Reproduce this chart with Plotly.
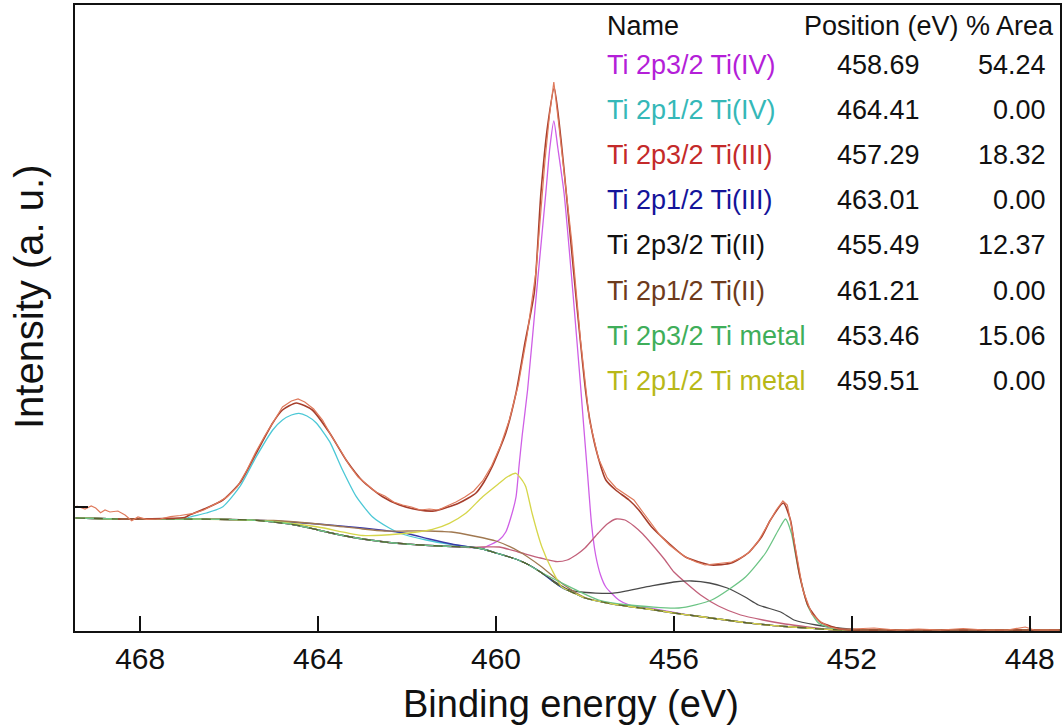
import plotly.graph_objects as go

# ---------------- data (binding energy in eV, intensity in a.u.) ----------------
bg_E = [469.45, 468.5, 468.0, 467.0, 466.0, 465.5, 465.0, 464.5, 464.0, 463.5, 463.0, 462.5, 462.0,
        461.5, 461.0, 460.5, 460.3, 460.0, 459.7, 459.5, 459.3, 459.0, 458.7, 458.5, 458.2, 458.0,
        457.5, 457.0, 456.5, 456.0, 455.5, 455.0, 454.5, 454.0, 453.5, 453.0, 452.5, 452.0, 447.3]
bg_I = [113, 112, 112, 112, 111.5, 111, 109, 106, 101, 96, 92, 89, 87,
        85.5, 84.5, 83.5, 82, 78, 74, 71, 67, 59, 49, 43, 37, 33,
        28, 24.5, 21.5, 18, 15, 12, 9, 6.5, 4.5, 3, 1.5, 1, 1]

raw_E = [469.43, 469.33, 469.24, 469.10, 469.00, 468.89, 468.79, 468.68, 468.50, 468.34, 468.19, 468.05,
         467.86, 467.55, 467.32, 467.10, 466.80, 466.57, 466.27, 466.05, 465.82, 465.6, 465.4, 465.2,
         465.0, 464.8, 464.6, 464.45, 464.3, 464.1, 463.9, 463.7, 463.5, 463.3, 463.1, 462.9, 462.7,
         462.5, 462.3, 462.1, 461.9, 461.7, 461.5, 461.3, 461.1, 460.9, 460.7, 460.5, 460.3, 460.1,
         459.9, 459.7, 459.5, 459.3, 459.1, 458.9, 458.8, 458.7, 458.6, 458.5, 458.3, 458.1, 457.9,
         457.7, 457.5, 457.3, 457.1, 456.9, 456.7, 456.5, 456.3, 456.1, 455.9, 455.7, 455.5, 455.3,
         455.1, 454.9, 454.7, 454.5, 454.3, 454.1, 453.9, 453.7, 453.55, 453.45, 453.3, 453.1, 452.9,
         452.7, 452.5, 452.3, 452.0, 451.5, 451.0, 450.5, 450.0, 449.5, 449.0, 448.5, 448.1, 447.9, 447.35]
raw_I = [125, 123.5, 122, 125, 123, 118.3, 121, 119, 120, 116, 110.3, 114,
         111.7, 112, 114.3, 115.5, 117.7, 121, 128, 134, 144, 161, 179, 195,
         210, 224, 230, 232, 229, 222, 211, 195, 181, 166, 154, 146, 139,
         135, 129, 126, 124, 121, 122, 121, 125, 129, 134, 140, 150, 165,
         185, 211, 246, 296, 360, 470, 515, 549, 511, 471, 391, 291, 211,
         173, 153, 143, 137, 131, 119, 107, 95, 86, 79, 73, 69, 66,
         67, 68, 69, 73, 79, 90, 105, 121, 130, 126, 91, 41, 17,
         9, 4, 2, 2, 3, 1, 2, 1, 2.5, 1, 1, 4, 1, 1]

env_E = [468.5, 468.0, 467.49, 467.0, 466.89, 466.51, 466.14, 465.76, 465.39, 465.02, 464.8, 464.49,
         464.13, 463.74, 463.37, 463.0, 462.55, 462.17, 461.73, 461.39, 460.83, 460.45, 460.27, 460.09,
         459.78, 459.55, 459.35, 459.14, 458.99, 458.84, 458.69, 458.54, 458.42, 458.21, 457.98, 457.87,
         457.73, 457.53, 457.31, 457.01, 456.79, 456.5, 456.12, 455.74, 455.16, 454.71, 454.33, 454.03,
         453.83, 453.54, 453.38, 453.29, 453.16, 452.98, 452.71, 452.19, 451.63, 447.3]
env_I = [112, 112, 112.5, 113.5, 116, 123, 131, 148, 178, 208, 221, 228,
         221, 198, 171, 150, 134.3, 126, 121, 120, 128, 138, 149, 164,
         198, 238, 288, 338, 438, 505, 543, 492, 438, 338, 238, 206,
         178, 151, 141, 131, 121, 104, 88, 74, 66, 68, 78, 94,
         111, 128, 111, 86, 53, 25, 9, 1.5, 1, 1]

# fitted components (component + background)
ti4_32_E = [460.31, 459.93, 459.78, 459.67, 459.55, 459.48, 459.41, 459.29, 459.09, 458.88, 458.79, 458.70,
            458.61, 458.47, 458.27, 458.10, 458.03, 457.94, 457.85, 457.76, 457.65, 457.53, 457.24, 457.0, 456.5, 456.0]
ti4_32_I = [83, 91, 99, 113, 134, 166, 196, 241, 338, 438, 483, 510,
            483, 438, 338, 246, 206, 156, 106, 76, 56, 44, 31, 26, 22.5, 18.5]

ti4_12_E = [466.88, 466.51, 466.14, 465.76, 465.39, 465.02, 464.8, 464.6, 464.43, 464.25, 464.04, 463.74,
            463.45, 463.14, 462.78, 462.4, 462.17, 461.57, 461.0, 460.4]
ti4_12_I = [114, 118, 124.3, 144.3, 174.3, 201, 211, 216, 217.7, 215, 208, 189.3,
            161, 134.3, 114.3, 103, 98, 91, 86.5, 83]

ti3_32_E = [460.6, 460.3, 459.93, 459.5, 459.0, 458.66, 458.4, 458.2, 458.0, 457.7, 457.5, 457.3, 457.1,
            456.9, 456.7, 456.5, 456.2, 456.0, 455.7, 455.4, 455.0, 454.5, 454.0, 453.5, 453.0, 452.5]
ti3_32_I = [83.5, 84, 84, 79, 73, 69.5, 71, 76, 83, 98, 107, 112, 111,
            105, 97, 87, 71, 59, 47, 36, 25, 16, 11, 7, 4, 1.5]

ti3_12_E = [465.5, 465.0, 464.5, 464.0, 463.5, 463.0, 462.5, 462.0, 461.5, 461.0, 460.5, 460.3]
ti3_12_I = [111, 110, 108.5, 107, 105, 103, 100.5, 97.5, 92, 87, 83.5, 82]

ti2_32_E = [458.7, 458.4, 458.1, 457.4, 456.6, 456.0, 455.6, 455.2, 454.8, 454.4, 454.1, 453.6, 453.3,
            452.8, 452.2, 451.5]
ti2_32_I = [50, 42, 39, 37.7, 44.3, 49, 50, 48, 43, 34, 26, 19, 11, 6, 2.5, 1]

ti2_12_E = [465.5, 465.0, 464.0, 463.0, 462.5, 462.0, 461.5, 461.2, 461.0, 460.5, 460.0, 459.5, 459.0,
            458.5, 458.0]
ti2_12_I = [111, 110.5, 107, 102, 100, 100, 100, 99.5, 99, 95, 90, 80, 65, 47, 33.5]

tim_32_E = [459.0, 457.69, 457.01, 455.89, 455.15, 454.39, 453.94, 453.65, 453.49, 453.36, 453.2, 452.98,
            452.75, 452.4, 452.0]
tim_32_I = [59, 31, 26, 23, 31, 54, 78, 101, 112, 98, 61, 24, 8, 2, 1]

tim_12_E = [466.0, 465.0, 464.0, 463.0, 462.2, 461.43, 461.05, 460.68, 460.3, 459.93, 459.75, 459.55,
            459.4, 459.33, 459.19, 458.97, 458.74, 458.52, 458.2]
tim_12_I = [111.5, 109.5, 104, 95.5, 97, 101.7, 107.7, 117.7, 134.3, 147.7, 154, 157.7,
            150, 144.3, 118, 84.3, 61, 44, 37]

names = ["Ti 2p3/2 Ti(IV)", "Ti 2p1/2 Ti(IV)", "Ti 2p3/2 Ti(III)", "Ti 2p1/2 Ti(III)",
         "Ti 2p3/2 Ti(II)", "Ti 2p1/2 Ti(II)", "Ti 2p3/2 Ti metal", "Ti 2p1/2 Ti metal"]
positions = ["458.69", "464.41", "457.29", "463.01", "455.49", "461.21", "453.46", "459.51"]
areas = ["54.24", "0.00", "18.32", "0.00", "12.37", "0.00", "15.06", "0.00"]
text_colors = ["#b41fd8", "#35b8b8", "#c42a2a", "#14149a", "#111111", "#6e3b1c", "#3fae5a", "#b8b818"]
line_colors = ["#cf5fe6", "#4cc8d6", "#c2607a", "#3a3aa8", "#4a4a4a", "#a07850", "#6cc485", "#d6d64a"]

x_ticks = [468, 464, 460, 456, 452, 448]

# ---------------- figure ----------------
W, H = 1064, 728
L, R, T, B = 75, 2, 5, 97
pw, ph = W - L - R, H - T - B


def px2paper_x(px):
    return (px - L) / pw


def px2paper_y(py):
    return (H - B - py) / ph


def with_bg(E, I):
    xs = [e for e in bg_E if e > E[0]] + list(E) + [e for e in bg_E if e < E[-1]]
    ys = ([i for e, i in zip(bg_E, bg_I) if e > E[0]] + list(I)
          + [i for e, i in zip(bg_E, bg_I) if e < E[-1]])
    return xs, ys


fig = go.Figure()

comps = [(ti4_32_E, ti4_32_I), (ti4_12_E, ti4_12_I), (ti3_32_E, ti3_32_I), (ti3_12_E, ti3_12_I),
         (ti2_32_E, ti2_32_I), (ti2_12_E, ti2_12_I), (tim_32_E, tim_32_I), (tim_12_E, tim_12_I)]
order = [0, 1, 2, 3, 4, 5, 7, 6]
for k in order:
    E, I = comps[k]
    xs, ys = with_bg(E, I)
    fig.add_trace(go.Scatter(x=xs, y=ys, mode="lines", hoverinfo="skip",
                             line=dict(color=line_colors[k], width=1.3, shape="spline", smoothing=0.6)))

fig.add_trace(go.Scatter(x=bg_E, y=bg_I, mode="lines", hoverinfo="skip",
                         line=dict(color="#56602e", width=1.2, shape="spline", smoothing=0.6, dash="dash")))

fig.add_trace(go.Scatter(x=env_E, y=env_I, mode="lines", hoverinfo="skip",
                         line=dict(color="#a63e2c", width=1.6, shape="spline", smoothing=0.6)))
fig.add_trace(go.Scatter(x=raw_E, y=raw_I, mode="lines", hoverinfo="skip",
                         line=dict(color="#df7a5c", width=1.2, shape="linear")))

font_fam = "Liberation Sans, Arial, sans-serif"
TS = 27
ann = []
# table header
hy = px2paper_y(26)
ann.append(dict(x=px2paper_x(606), y=hy, text="Name", xanchor="left", yanchor="middle"))
ann.append(dict(x=px2paper_x(803), y=hy, text="Position (eV)", xanchor="left", yanchor="middle"))
ann.append(dict(x=px2paper_x(1058), y=hy, text="% Area", xanchor="right", yanchor="middle"))
for i in range(len(names)):
    yy = px2paper_y(65 + 45.1 * i)
    ann.append(dict(x=px2paper_x(606), y=yy, text=names[i], xanchor="left", yanchor="middle",
                    font=dict(color=text_colors[i], size=TS, family=font_fam)))
    ann.append(dict(x=px2paper_x(924), y=yy, text=positions[i], xanchor="right", yanchor="middle"))
    ann.append(dict(x=px2paper_x(1050), y=yy, text=areas[i], xanchor="right", yanchor="middle"))
for a in ann:
    a.update(xref="paper", yref="paper", showarrow=False)
    a.setdefault("font", dict(color="#111111", size=TS, family=font_fam))

# axis titles
ann.append(dict(x=px2paper_x(572), y=px2paper_y(704), xref="paper", yref="paper", showarrow=False,
                text="Binding energy (eV)", xanchor="center", yanchor="middle",
                font=dict(size=38, color="#111111", family=font_fam)))
ann.append(dict(x=px2paper_x(29), y=px2paper_y(297), xref="paper", yref="paper", showarrow=False,
                text="Intensity (a. u.)", xanchor="center", yanchor="middle", textangle=-90,
                font=dict(size=40, color="#111111", family=font_fam)))

fig.update_layout(
    width=W, height=H, margin=dict(l=L, r=R, t=T, b=B),
    paper_bgcolor="white", plot_bgcolor="white", showlegend=False,
    annotations=ann,
    xaxis=dict(range=[469.465, 447.32], tickvals=x_ticks, ticks="inside", ticklen=15, tickwidth=2,
               tickcolor="#111111", showline=True, linecolor="#111111", linewidth=1.5, mirror=True,
               showgrid=False, zeroline=False,
               tickfont=dict(size=30, color="#111111", family=font_fam)),
    yaxis=dict(range=[0, 626], tickvals=[124], ticks="inside", ticklen=13, tickwidth=2,
               tickcolor="#111111", showticklabels=False, showline=True, linecolor="#111111",
               linewidth=1.5, mirror=True, showgrid=False, zeroline=False),
)

fig.write_html("out.html", config={"displayModeBar": False},
               post_script="document.body.style.margin='0';document.body.style.padding='0';")
